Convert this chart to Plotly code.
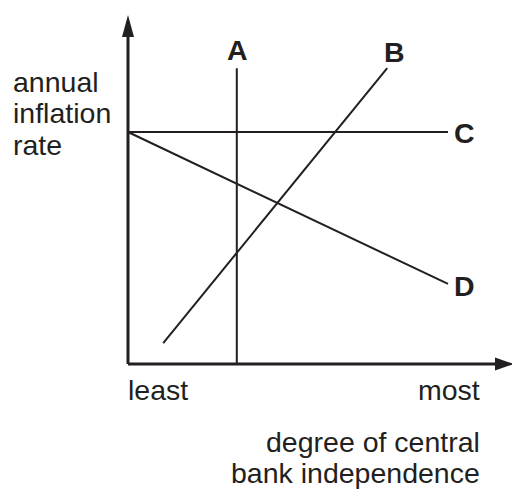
import plotly.graph_objects as go

# ---- data (conceptual units: x = central bank independence, y = inflation) ----
line_names = ["A", "B", "C", "D"]
line_x = {"A": [3.4, 3.4], "B": [1.1, 8.1], "C": [0.0, 10.0], "D": [0.0, 10.0]}
line_y = {"A": [0.0, 12.75], "B": [0.9, 12.75], "C": [10.0, 10.0], "D": [10.0, 3.45]}
y_label_lines = ["annual", "inflation", "rate"]
x_tick_labels = ["least", "most"]
x_title_lines = ["degree of central", "bank independence"]

# ---- layout geometry (pixel mapping) ----
W, H = 512, 490
OX, OY = 128, 364      # origin pixel
SX, SY = 32.0, 23.2    # pixels per unit
INK = "#231f20"
FONT = "Liberation Sans, Arial, sans-serif"
FS = 28.5


def dx(px):
    return (px - OX) / SX


def dy(py):
    return (OY - py) / SY


fig = go.Figure()
for name in line_names:
    fig.add_trace(go.Scatter(x=line_x[name], y=line_y[name], mode="lines",
                             line=dict(color=INK, width=2), showlegend=False,
                             hoverinfo="skip"))

# axes with arrowheads
shapes = [
    dict(type="line", x0=0, y0=0, x1=0, y1=dy(36), line=dict(color=INK, width=3)),
    dict(type="line", x0=0, y0=0, x1=dx(496), y1=0, line=dict(color=INK, width=3)),
    dict(type="path",
         path=f"M {dx(122)} {dy(37)} L {dx(128)} {dy(15)} L {dx(134)} {dy(37)} Z",
         fillcolor=INK, line=dict(color=INK, width=0)),
    dict(type="path",
         path=f"M {dx(495)} {dy(357.5)} L {dx(514)} {dy(364)} L {dx(495)} {dy(370.5)} Z",
         fillcolor=INK, line=dict(color=INK, width=0)),
]

ann = []


def txt(text, px, py, xanchor, bold=False):
    ann.append(dict(x=dx(px), y=dy(py), text=(f"<b>{text}</b>" if bold else text),
                    showarrow=False, xanchor=xanchor, yanchor="middle",
                    font=dict(family=FONT, size=FS, color=INK)))


# line labels
txt("A", 237.5, 49.6, "center", True)
txt("B", 394, 51.6, "center", True)
txt("C", 464, 132.6, "center", True)
txt("D", 464, 285.6, "center", True)

# y label
for s, py in zip(y_label_lines, [82, 113, 145]):
    txt(s, 11, py, "left")

# x tick labels
txt(x_tick_labels[0], 126, 390, "left")
txt(x_tick_labels[1], 482, 390, "right")

# x title
for s, py in zip(x_title_lines, [442, 473]):
    txt(s, 482, py, "right")

fig.update_layout(
    width=W, height=H, margin=dict(l=0, r=0, t=0, b=0),
    paper_bgcolor="white", plot_bgcolor="white",
    xaxis=dict(range=[dx(0), dx(W)], visible=False, fixedrange=True),
    yaxis=dict(range=[dy(H), dy(0)], visible=False, fixedrange=True),
    shapes=shapes, annotations=ann, showlegend=False,
)

fig.write_html("out.html", config={"displayModeBar": False},
               post_script="document.body.style.margin='0';")
